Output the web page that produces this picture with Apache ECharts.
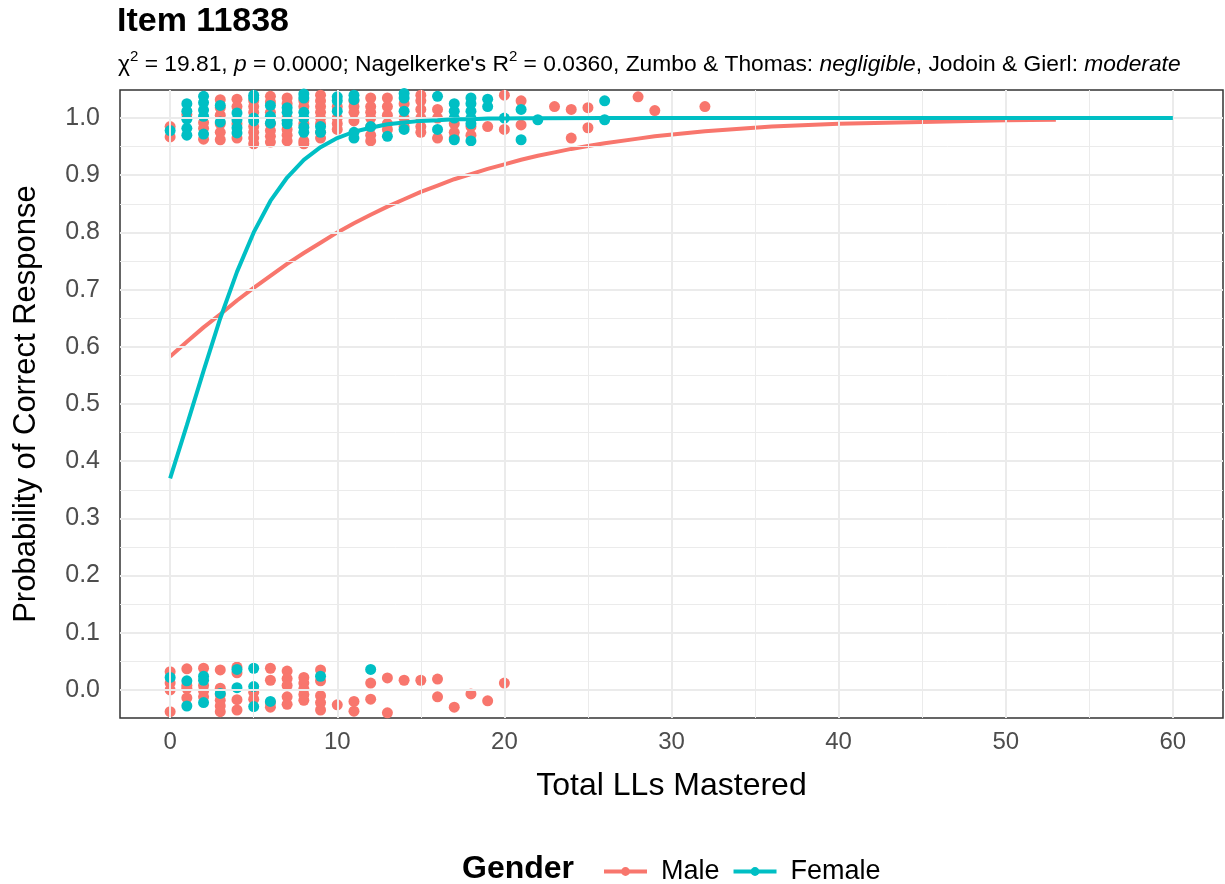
<!DOCTYPE html>
<html><head><meta charset="utf-8">
<script src="https://cdn.jsdelivr.net/npm/echarts@6/dist/echarts.min.js"></script>
<style>html,body{margin:0;padding:0;background:#fff}#c{width:1225px;height:884px}</style>
</head><body><div id="c"></div>
<script>
// ---------------- data ----------------
const xTicks = [0, 10, 20, 30, 40, 50, 60];
const xMinor = [5, 15, 25, 35, 45, 55];
const yTicks = [0, 0.1, 0.2, 0.3, 0.4, 0.5, 0.6, 0.7, 0.8, 0.9, 1.0];
const yMinor = [0.05, 0.15, 0.25, 0.35, 0.45, 0.55, 0.65, 0.75, 0.85, 0.95];

// jittered observed responses (x = Total LLs Mastered, y = 0/1 response with vertical jitter)
const maleCorrect = [
  [0,0.985],[0,0.967],[1,1.006],[2,0.992],[2,0.982],[2,0.963],
  [3,1.032],[3,1.018],[3,1.005],[3,0.99],[3,0.975],[3,0.962],
  [4,1.033],[4,1.02],[4,0.99],[4,0.965],
  [5,1.03],[5,1.02],[5,1.01],[5,0.985],[5,0.975],[5,0.965],[5,0.955],
  [6,1.038],[6,1.028],[6,1.01],[6,0.99],[6,0.978],[6,0.968],[6,0.958],
  [7,1.035],[7,1.025],[7,1.0],[7,0.98],[7,0.97],[7,0.96],
  [8,1.03],[8,1.02],[8,0.99],[8,0.96],[8,0.955],
  [9,1.04],[9,1.03],[9,1.02],[9,1.01],[9,1.0],[9,0.99],[9,0.975],[9,0.965],
  [10,1.02],[10,1.0],[10,0.99],[10,0.98],
  [11,1.03],[11,1.02],[11,1.01],[11,0.995],
  [12,1.035],[12,1.02],[12,1.01],[12,1.0],[12,0.985],[12,0.97],[12,0.96],
  [13,1.035],[13,1.02],[13,1.005],[13,0.99],[13,0.98],
  [14,1.025],[14,1.0],[14,0.985],
  [15,1.04],[15,1.03],[15,1.015],[15,1.0],[15,0.985],[15,0.975],
  [16,1.015],[16,1.0],[16,0.965],
  [17,0.99],[17,0.975],[17,0.965],
  [18,0.985],[18,0.97],[19,0.985],[20,1.04],[20,0.98],[21,1.03],[21,0.988],
  [23,1.02],[24,1.015],[24,0.965],[25,1.018],[25,0.983],[28,1.037],[29,1.013],[32,1.02]
];
const femaleCorrect = [
  [0,0.978],
  [1,1.025],[1,1.012],[1,0.998],[1,0.982],[1,0.97],
  [2,1.038],[2,1.027],[2,1.014],[2,1.003],[2,0.972],
  [3,1.022],[3,0.993],
  [4,1.009],[4,0.997],[4,0.983],[4,0.974],
  [5,1.04],[5,1.035],[5,1.0],[5,0.995],
  [6,1.022],[6,1.003],[6,0.991],
  [7,1.018],[7,1.01],[7,0.996],[7,0.99],
  [8,1.042],[8,1.035],[8,1.01],[8,1.0],[8,0.984],[8,0.975],
  [9,0.985],[9,0.975],
  [10,1.037],[10,1.03],[10,1.012],
  [11,1.04],[11,1.032],[11,0.975],[11,0.965],
  [12,0.985],[13,0.968],
  [14,1.043],[14,1.035],[14,1.012],[14,0.98],
  [16,1.038],[16,0.98],
  [17,1.025],[17,1.012],[17,1.0],[17,0.962],
  [18,1.035],[18,1.025],[18,1.012],[18,1.0],[18,0.99],[18,0.96],
  [19,1.033],[19,1.02],[20,1.0],[21,1.015],[21,0.962],[22,0.997],[26,1.03],[26,0.997]
];
const maleIncorrect = [
  [0,0.032],[0,0.012],[0,0.0],[0,-0.038],
  [1,0.037],[1,0.008],[1,0.003],[1,-0.014],
  [2,0.038],[2,0.008],[2,-0.002],[2,-0.012],
  [3,0.035],[3,0.003],[3,-0.008],[3,-0.018],[3,-0.028],[3,-0.038],
  [4,0.04],[4,0.03],[4,-0.017],[4,-0.035],
  [5,-0.004],[5,-0.016],
  [6,0.038],[6,0.017],[6,-0.022],[6,-0.03],
  [7,0.033],[7,0.02],[7,0.008],[7,-0.012],[7,-0.025],
  [8,0.022],[8,0.012],[8,0.002],[8,-0.008],[8,-0.018],
  [9,0.035],[9,0.016],[9,-0.01],[9,-0.022],[9,-0.035],
  [10,-0.026],[11,-0.02],[11,-0.037],[12,0.012],[12,-0.016],[13,0.021],[13,-0.04],
  [14,0.017],[15,0.017],[16,0.019],[16,-0.012],[17,-0.03],[18,-0.007],[19,-0.019],[20,0.012]
];
const femaleIncorrect = [
  [0,0.022],[1,0.016],[1,-0.028],[2,0.024],[2,0.017],[2,-0.022],[3,-0.006],
  [4,0.036],[4,0.004],[5,0.038],[5,0.006],[5,-0.029],[6,-0.02],[9,0.024],[12,0.036]
];

// fitted probability curves
const maleCurveX = [0,1,2,3,4,5,6,7,8,9,10,11,12,13,14,15,16,17,18,19,20,21,22,23,24,25,26,28,29,32,36,40,45,50,53];
const maleCurveY = [0.583,0.609,0.634,0.657,0.681,0.703,0.724,0.745,0.764,0.782,0.800,0.816,0.831,0.845,0.858,0.871,0.882,0.893,0.902,0.911,0.919,0.927,0.934,0.940,0.946,0.951,0.956,0.964,0.968,0.977,0.985,0.990,0.993,0.996,0.997];
const femaleCurveX = [0,1,2,3,4,5,6,7,8,9,10,11,12,13,14,15,16,17,18,19,20,21,22,26,60];
const femaleCurveY = [0.370,0.463,0.558,0.650,0.731,0.800,0.855,0.896,0.927,0.949,0.965,0.976,0.983,0.989,0.992,0.995,0.996,0.998,0.998,0.999,0.999,0.9995,0.9997,0.9999,1.0];

// ---------------- chart ----------------
const FONT = '"Liberation Sans", Arial, Helvetica, sans-serif';
const RED = '#F8766D', TEAL = '#00BFC4';
const pairs = (xs, ys) => xs.map((x, i) => [x, ys[i]]);
const chart = echarts.init(document.getElementById('c'), null, {renderer: 'canvas'});

const gridLines = [].concat(
  xMinor.map(v => ({xAxis: v, lineStyle: {color: '#EBEBEB', width: 1, type: 'solid'}})),
  yMinor.map(v => ({yAxis: v, lineStyle: {color: '#EBEBEB', width: 1, type: 'solid'}})),
  xTicks.map(v => ({xAxis: v, lineStyle: {color: '#EBEBEB', width: 2, type: 'solid'}})),
  yTicks.map(v => ({yAxis: v, lineStyle: {color: '#EBEBEB', width: 2, type: 'solid'}}))
);

chart.setOption({
  animation: false,
  backgroundColor: '#fff',
  textStyle: {fontFamily: FONT},
  grid: {left: 120, right: 2, top: 90, bottom: 166, show: true, borderColor: '#333', borderWidth: 1.5, backgroundColor: 'transparent', containLabel: false},
  xAxis: {
    type: 'value', min: -3, max: 63,
    name: 'Total LLs Mastered', nameLocation: 'middle', nameGap: 52,
    nameTextStyle: {fontSize: 32, color: '#000', fontFamily: FONT},
    axisLine: {show: false},
    splitLine: {show: false},
    axisTick: {show: true, customValues: xTicks, length: 7, lineStyle: {color: '#333', width: 1.5}},
    axisLabel: {customValues: xTicks, fontSize: 24, color: '#4D4D4D', margin: 12, fontFamily: FONT}
  },
  yAxis: {
    type: 'value', min: -0.049, max: 1.049,
    name: 'Probability of Correct Response', nameLocation: 'middle', nameGap: 78,
    nameTextStyle: {fontSize: 31, color: '#000', fontFamily: FONT},
    axisLine: {show: false},
    splitLine: {show: false},
    axisTick: {show: true, customValues: yTicks, length: 7, lineStyle: {color: '#333', width: 1.5}},
    axisLabel: {customValues: yTicks, fontSize: 25, color: '#4D4D4D', margin: 20, fontFamily: FONT,
      formatter: v => Number(v).toFixed(1)}
  },
  legend: {
    data: ['Male', 'Female'], left: 597, top: 853, orient: 'horizontal',
    itemWidth: 43, itemHeight: 11, itemGap: 12,
    lineStyle: {width: 4},
    textStyle: {fontSize: 27, color: '#000', fontFamily: FONT, padding: [0, 0, 0, 9]}
  },
  graphic: [
    {type: 'text', left: 117, top: 5, style: {text: 'Item 11838', fontSize: 34, fontWeight: 'bold', fill: '#000', fontFamily: FONT}},
    {type: 'text', left: 118, top: 49, style: {
      text: '{chi|χ}{sup|2} = 19.81, {it|p} = 0.0000; Nagelkerke\'s R{sup|2} = 0.0360, Zumbo & Thomas: {it|negligible}, Jodoin & Gierl: {it|moderate}',
      fontSize: 22.8, lineHeight: 32, fill: '#000', fontFamily: FONT,
      rich: {
        sup: {fontSize: 15, lineHeight: 15, verticalAlign: 'top', fontFamily: FONT, fill: '#000'},
        it: {fontSize: 22.8, lineHeight: 32, fontStyle: 'italic', fontFamily: FONT, fill: '#000'},
        chi: {fontSize: 22.8, lineHeight: 32, fontFamily: FONT, fill: '#000'}
      }
    }},
    {type: 'text', left: 462, top: 853, style: {text: 'Gender', fontSize: 32, fontWeight: 'bold', fill: '#000', fontFamily: FONT}}
  ],
  series: [
    {type: 'line', name: 'grid', data: [], silent: true, z: 0,
      markLine: {silent: true, symbol: 'none', animation: false, label: {show: false}, data: gridLines}},
    {type: 'scatter', name: 'Male points', data: maleCorrect.concat(maleIncorrect), symbol: 'circle', symbolSize: 11,
      itemStyle: {color: RED, opacity: 1}, z: 2, silent: true},
    {type: 'scatter', name: 'Female points', data: femaleCorrect.concat(femaleIncorrect), symbol: 'circle', symbolSize: 11,
      itemStyle: {color: TEAL, opacity: 1}, z: 3, silent: true},
    {type: 'line', name: 'Male', data: pairs(maleCurveX, maleCurveY), showSymbol: false, symbol: 'circle', symbolSize: 10,
      lineStyle: {color: RED, width: 4}, itemStyle: {color: RED}, z: 4, smooth: false},
    {type: 'line', name: 'Female', data: pairs(femaleCurveX, femaleCurveY), showSymbol: false, symbol: 'circle', symbolSize: 10,
      lineStyle: {color: TEAL, width: 4}, itemStyle: {color: TEAL}, z: 5, smooth: false}
  ]
});
</script></body></html>
